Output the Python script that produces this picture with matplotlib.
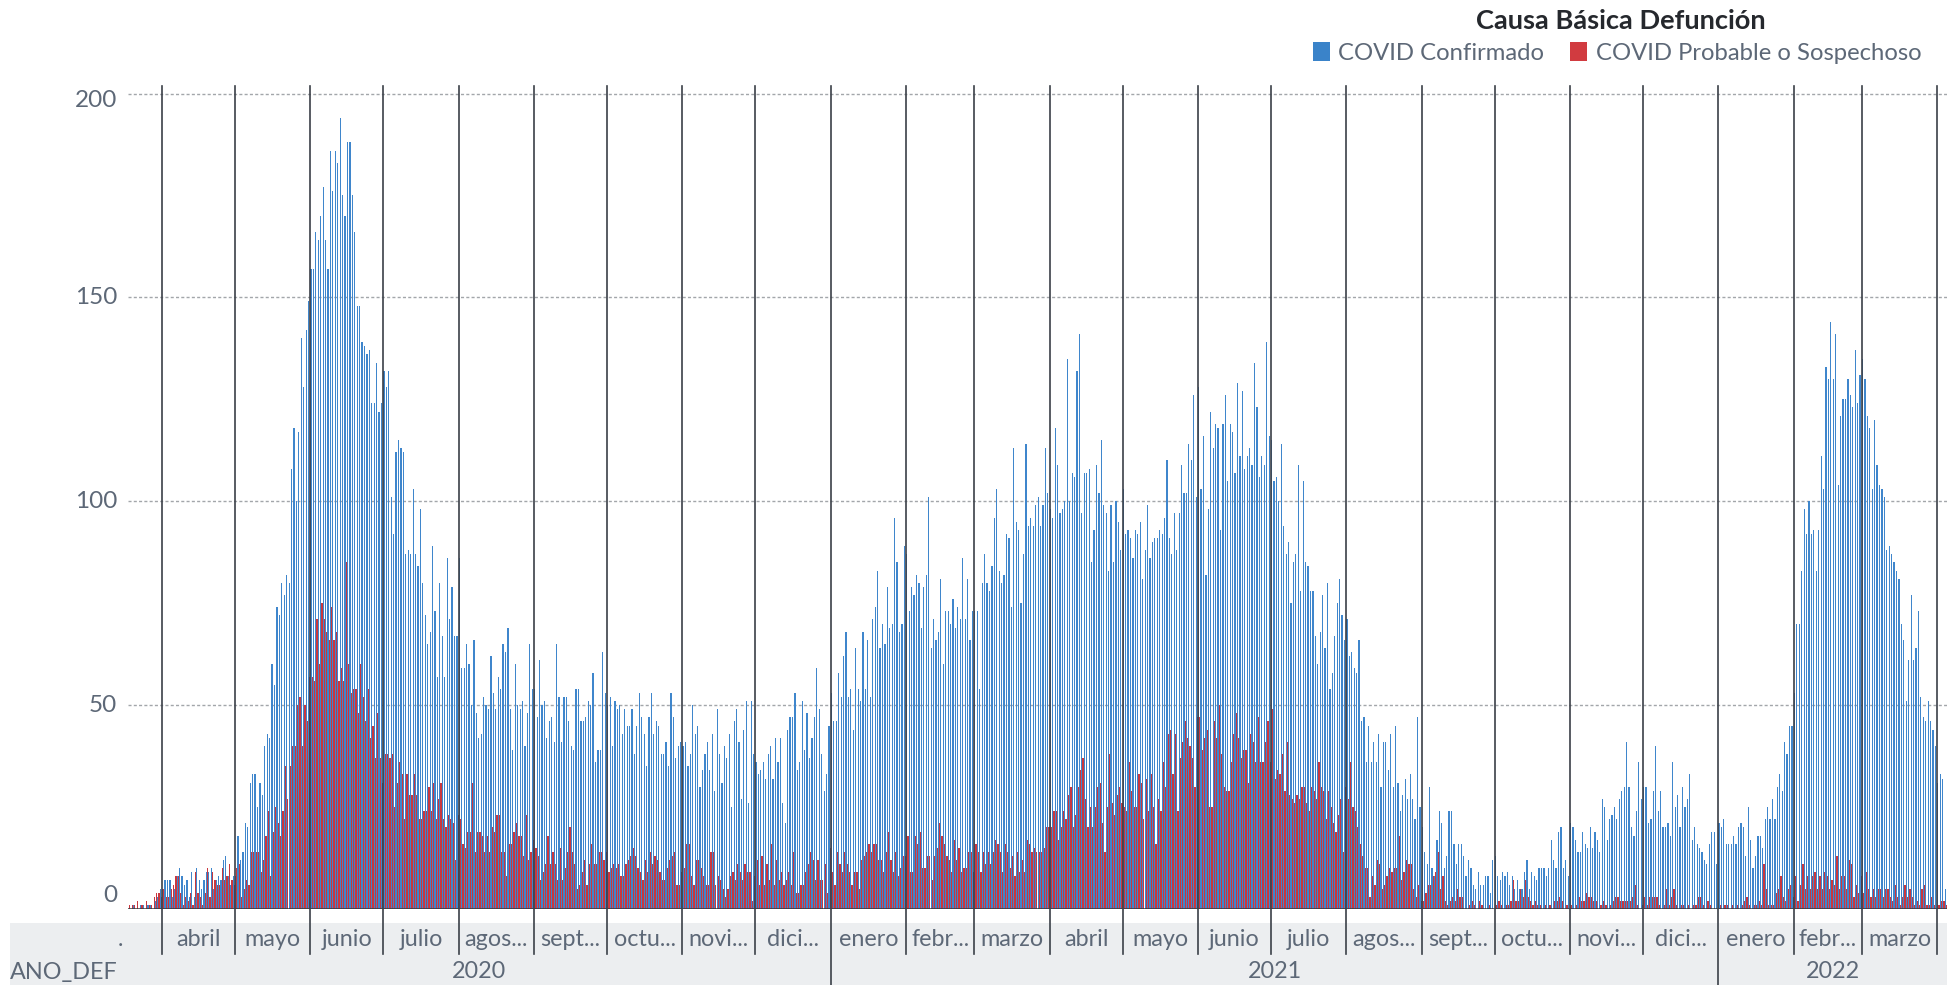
import matplotlib
matplotlib.use("Agg")
import matplotlib.pyplot as plt
import matplotlib.transforms as mtransforms
from matplotlib.patches import Rectangle
from matplotlib.lines import Line2D
import numpy as np
import pandas as pd

plt.rcParams['font.family'] = ['Lato', 'DejaVu Sans']

# ---------------- data (daily deaths) ----------------
start_date = "2020-03-18"

conf_2020_03 = [0,0,1,0,0,1,1,0,1,1,0,2,3,5]
conf_2020_04 = [5,7,7,7,3,5,8,10,8,6,7,3,9,3,10,7,5,7,9,9,10,5,7,8,7,12,13,8,6,8]
conf_2020_05 = [8,18,12,14,21,20,31,33,33,25,31,28,40,43,42,60,55,74,72,80,77,82,80,108,118,100,117,140,128,142,149]
conf_2020_06 = [157,157,166,164,170,177,164,157,186,176,186,183,194,175,170,188,188,175,166,148,148,139,138,136,137,124,124,134,122,124]
conf_2020_07 = [132,128,132,101,92,112,115,113,112,87,88,87,103,87,84,98,80,72,65,68,89,73,57,80,67,57,86,71,79,67,67]
conf_2020_08 = [86,59,59,65,60,50,66,48,42,43,52,50,49,62,53,49,57,54,65,63,69,49,39,60,50,49,51,40,48,65,54]
conf_2020_09 = [54,47,61,50,51,42,46,47,41,65,52,41,52,52,46,40,39,54,54,46,46,47,51,50,58,36,39,39,63,53]
conf_2020_10 = [50,52,40,51,49,50,43,49,45,45,49,38,45,53,47,43,35,47,53,43,46,45,38,38,41,35,53,47,37,40,41]
conf_2020_11 = [40,41,35,38,50,43,45,30,34,38,41,34,43,29,49,38,31,40,37,43,25,46,49,41,27,44,51,26,51,38]
conf_2020_12 = [36,33,34,36,32,38,40,32,42,36,42,26,21,44,47,47,53,34,36,51,39,48,37,42,47,59,49,38,29,33,45]
conf_2021_01 = [53,46,46,58,52,62,68,52,54,44,64,54,51,68,54,66,52,71,74,83,64,70,65,79,69,70,96,85,68,70,89]
conf_2021_02 = [87,73,79,77,82,80,69,79,82,101,64,71,66,68,81,60,73,73,70,76,69,74,71,86,71,81,66,73]
conf_2021_03 = [73,73,54,80,87,80,78,84,96,103,83,80,82,92,91,74,113,95,93,75,87,114,94,96,94,99,101,94,99,113,102]
conf_2021_04 = [98,96,118,109,97,98,100,135,100,107,106,132,141,97,107,107,108,85,93,109,102,115,99,97,83,99,85,100,95,88]
conf_2021_05 = [103,92,93,91,86,93,92,95,81,88,99,86,90,91,91,93,92,96,110,91,87,97,88,97,109,102,102,114,110,126,101]
conf_2021_06 = [128,103,116,82,98,122,113,119,118,93,119,126,105,119,117,107,129,111,127,108,111,113,109,134,123,106,111,109,139,116]
conf_2021_07 = [115,105,106,100,114,94,87,90,75,85,87,109,78,105,85,84,78,78,67,60,68,77,64,80,54,58,67,75,81,72,66]
conf_2021_08 = [71,62,63,59,58,66,46,47,36,45,36,41,36,43,30,41,41,34,43,30,45,31,24,28,32,27,33,27,22,47,25]
conf_2021_09 = [20,14,11,30,10,8,17,24,21,10,13,24,24,16,11,16,16,13,8,12,10,6,5,9,6,6,8,8,4,12]
conf_2021_10 = [13,8,7,9,8,9,6,8,5,7,5,5,9,12,5,9,8,7,10,10,10,8,10,17,12,10,19,20,10,12,8]
conf_2021_11 = [21,20,17,14,14,19,16,15,20,15,19,17,14,27,25,17,22,23,25,22,27,29,30,41,30,20,18,24,36,27]
conf_2021_12 = [30,30,21,22,29,40,24,29,20,20,21,18,36,25,28,20,30,25,27,33,17,20,16,15,14,12,11,16,19,19,11]
conf_2022_01 = [21,20,22,16,16,16,18,16,20,21,20,13,25,17,10,13,18,18,15,22,25,22,27,22,30,33,29,41,38,45,45]
conf_2022_02 = [53,70,70,83,98,92,100,92,93,83,93,111,103,133,130,144,130,141,104,121,125,125,130,126,123,137,124,131]
conf_2022_03 = [135,130,121,118,103,120,109,104,103,101,88,89,87,85,83,81,70,66,51,61,77,61,64,73,52,47,46,51,46,44,40]
conf_2022_04 = [31,33,32,5]

prob_2020_03 = [1,1,1,2,0,1,0,2,1,1,3,4,4,3]
prob_2020_04 = [5,3,3,5,6,8,8,4,1,3,2,4,1,9,4,3,1,4,10,3,9,7,6,6,10,7,8,11,7,6]
prob_2020_05 = [10,11,3,5,7,6,14,14,14,14,9,12,18,24,8,19,25,21,18,24,35,27,35,40,40,50,52,40,50,46,57]
prob_2020_06 = [57,56,71,60,75,71,68,66,74,66,68,56,59,56,85,60,53,54,54,48,60,52,46,54,42,45,37,48,37,31]
prob_2020_07 = [38,38,37,38,25,31,36,33,22,33,28,28,33,28,22,22,24,24,30,24,31,22,27,31,22,20,23,22,21,12,23]
prob_2020_08 = [22,16,15,19,19,31,14,19,19,18,14,18,14,20,19,23,23,14,14,8,16,16,19,21,18,18,13,23,12,14,17]
prob_2020_09 = [15,13,7,9,11,18,11,14,11,7,15,7,10,14,20,14,11,5,6,9,12,6,11,16,11,11,14,14,12,14]
prob_2020_10 = [9,10,11,10,11,8,8,11,12,13,15,13,10,9,7,12,9,14,11,13,12,9,7,7,10,12,13,14,6,6,9]
prob_2020_11 = [10,16,16,8,6,12,12,10,8,6,6,14,14,6,8,7,5,3,5,8,9,7,11,9,7,11,9,9,2,8]
prob_2020_12 = [12,6,13,6,11,7,16,6,12,7,9,6,7,9,6,14,4,4,6,6,9,11,14,12,7,12,7,7,11,4,15]
prob_2021_01 = [9,6,14,11,9,14,11,9,6,9,9,5,12,13,14,16,14,16,16,12,12,9,14,19,12,9,14,8,10,13,13]
prob_2021_02 = [18,9,9,18,16,19,10,10,13,13,7,13,15,21,18,16,13,12,9,17,12,15,9,10,10,14,14,9]
prob_2021_03 = [16,14,9,14,11,14,11,14,17,16,14,9,16,14,10,13,8,14,9,12,9,17,16,14,15,14,14,14,15,20,20]
prob_2021_04 = [20,24,24,17,20,24,22,28,30,20,23,30,34,37,27,20,25,20,25,30,31,21,14,25,38,26,23,28,30,26]
prob_2021_05 = [25,24,36,29,25,25,33,31,22,32,24,33,25,16,27,24,36,30,43,44,33,43,24,37,41,46,42,40,37,30,47]
prob_2021_06 = [47,39,42,44,25,25,46,42,50,38,30,29,29,36,43,48,42,37,39,39,31,43,41,36,47,36,36,41,46,36]
prob_2021_07 = [49,32,34,33,38,29,41,28,27,26,28,27,30,30,26,24,30,29,27,36,30,29,22,29,25,21,19,23,27,14,30]
prob_2021_08 = [27,36,25,24,20,16,13,10,10,3,8,6,12,11,5,6,8,10,9,10,10,18,7,9,12,11,11,5,3,6,2]
prob_2021_09 = [2,4,6,6,8,9,14,5,8,2,1,2,3,2,5,3,3,0,0,1,2,1,0,2,1,0,0,1,0,0]
prob_2021_10 = [1,2,1,0,1,1,2,7,2,2,5,3,7,3,2,1,2,1,1,0,1,0,1,0,2,2,3,2,0,1,0]
prob_2021_11 = [1,0,1,3,2,2,4,3,3,2,2,0,1,2,1,0,1,2,3,3,2,2,2,2,2,3,6,1,0,1]
prob_2021_12 = [3,1,3,3,3,3,1,0,1,5,1,3,5,1,0,1,1,0,1,0,1,1,3,3,1,0,2,1,0,0,0]
prob_2022_01 = [1,0,1,1,0,1,0,1,0,1,2,3,1,0,1,1,2,1,11,5,1,1,1,4,5,8,3,2,5,6,3]
prob_2022_02 = [8,2,6,11,5,8,5,8,9,5,8,5,9,8,5,7,6,13,5,8,8,5,12,11,3,6,4,8]
prob_2022_03 = [4,9,5,3,5,3,5,5,3,5,5,3,2,6,3,1,3,6,3,5,3,1,2,1,5,6,1,1,3,1,0]
prob_2022_04 = [1,2,2,1]

month_labels = [".", "abril", "mayo", "junio", "julio", "agos...", "sept...", "octu...",
                "novi...", "dici...", "enero", "febr...", "marzo", "abril", "mayo", "junio",
                "julio", "agos...", "sept...", "octu...", "novi...", "dici...", "enero",
                "febr...", "marzo", ""]
year_labels = ["2020", "2021", "2022"]
series_names = ["COVID Confirmado", "COVID Probable o Sospechoso"]
legend_title = "Causa Básica Defunción"
axis_title = "ANO_DEF"
y_ticks = [0, 50, 100, 150, 200]

conf_months = [conf_2020_03, conf_2020_04, conf_2020_05, conf_2020_06, conf_2020_07, conf_2020_08,
               conf_2020_09, conf_2020_10, conf_2020_11, conf_2020_12, conf_2021_01, conf_2021_02,
               conf_2021_03, conf_2021_04, conf_2021_05, conf_2021_06, conf_2021_07, conf_2021_08,
               conf_2021_09, conf_2021_10, conf_2021_11, conf_2021_12, conf_2022_01, conf_2022_02,
               conf_2022_03, conf_2022_04]
prob_months = [prob_2020_03, prob_2020_04, prob_2020_05, prob_2020_06, prob_2020_07, prob_2020_08,
               prob_2020_09, prob_2020_10, prob_2020_11, prob_2020_12, prob_2021_01, prob_2021_02,
               prob_2021_03, prob_2021_04, prob_2021_05, prob_2021_06, prob_2021_07, prob_2021_08,
               prob_2021_09, prob_2021_10, prob_2021_11, prob_2021_12, prob_2022_01, prob_2022_02,
               prob_2022_03, prob_2022_04]

conf = np.concatenate([np.array(m, dtype=float) for m in conf_months])
prob = np.concatenate([np.array(m, dtype=float) for m in prob_months])
n = len(conf)
dates = pd.date_range(start_date, periods=n, freq="D")
idx = np.arange(n)

# ---------------- figure ----------------
W, H = 1955, 985
fig = plt.figure(figsize=(W / 100, H / 100), dpi=100)
fig.patch.set_facecolor("white")

def fy(px):
    return (H - px) / H

# bottom category band (drawn first, behind everything)
fig.patches.append(Rectangle((10 / W, 0), (1947 - 10) / W, fy(923), transform=fig.transFigure,
                             facecolor="#eceef0", edgecolor="none", zorder=-5))

ax_left, ax_right = 128, 1947
ax_bottom_px, ax_top_px = 909, 86
ax = fig.add_axes([ax_left / W, (H - ax_bottom_px) / H,
                   (ax_right - ax_left) / W, (ax_bottom_px - ax_top_px) / H])
ax.patch.set_alpha(0)
px_per_unit = (909 - 93.5) / 200.0
ax.set_ylim(0, (ax_bottom_px - ax_top_px) / px_per_unit)
ax.set_xlim(-0.5, n - 0.5)
for s in ax.spines.values():
    s.set_visible(False)
ax.set_xticks([])
ax.set_yticks([])

# gridlines
for v in y_ticks[1:]:
    ax.axhline(v, color="#a3a6aa", lw=1.0, linestyle=(0, (2.2, 1.6)), zorder=1)

# bars: confirmed (left half), probable (right half)
bw = 0.5
ax.bar(idx - bw / 2, conf, width=bw, color="#3f86cc", linewidth=0, zorder=2)
ax.bar(idx + bw / 2, prob, width=bw, color="#c9383f", linewidth=0, zorder=3)

# baseline
ax.axhline(0, color="#33373d", lw=1.8, zorder=5)

# ---------------- separators & category labels ----------------
trans = mtransforms.blended_transform_factory(ax.transData, fig.transFigure)
month_start = pd.date_range("2020-04-01", "2022-04-01", freq="MS")
boundaries = [int((d - dates[0]).days) - 0.5 for d in month_start]
for d, b in zip(month_start, boundaries):
    y_end = 0.0 if d.month == 1 else fy(954)
    ax.add_line(Line2D([b, b], [fy(86), y_end], transform=trans, color="#3b4048",
                       lw=1.2, clip_on=False, zorder=6))

seg_edges = [-0.5] + boundaries + [n - 0.5]
for i, lab in enumerate(month_labels):
    if not lab:
        continue
    c = 0.5 * (seg_edges[i] + seg_edges[i + 1])
    if lab == ".":
        c = (120 - ax_left) / ((ax_right - ax_left) / n) - 0.5
    ax.text(c, fy(940), lab, transform=trans, ha="center", va="center",
            fontsize=16.8, color="#5d6877", clip_on=False)

year_edges = [-0.5,
              int((pd.Timestamp("2021-01-01") - dates[0]).days) - 0.5,
              int((pd.Timestamp("2022-01-01") - dates[0]).days) - 0.5,
              n - 0.5]
for i, lab in enumerate(year_labels):
    c = 0.5 * (year_edges[i] + year_edges[i + 1])
    ax.text(c, fy(972), lab, transform=trans, ha="center", va="center",
            fontsize=16.8, color="#5d6877", clip_on=False)

fig.text(10 / W, fy(972), axis_title, ha="left", va="center", fontsize=16.8, color="#5d6877")

# y tick labels
ytrans = mtransforms.blended_transform_factory(fig.transFigure, ax.transData)
label_pos = {0: 3.2, 50: 50, 100: 100, 150: 150, 200: 198.4}
for v in y_ticks:
    ax.text(117 / W, label_pos[v], str(v), transform=ytrans, ha="right", va="center",
            fontsize=17.5, color="#5d6877", clip_on=False)

# ---------------- legend ----------------
fig.text(1621 / W, fy(21), legend_title, ha="center", va="center", fontsize=19.6,
         fontweight="bold", color="#25282d")
fig.patches.append(Rectangle((1313 / W, fy(61)), 17 / W, 19 / H, transform=fig.transFigure,
                             facecolor="#3a83c9", edgecolor="none"))
fig.text(1338 / W, fy(53), series_names[0], ha="left", va="center", fontsize=17.2,
         color="#5d6877")
fig.patches.append(Rectangle((1570 / W, fy(61)), 17 / W, 19 / H, transform=fig.transFigure,
                             facecolor="#d13b40", edgecolor="none"))
fig.text(1596 / W, fy(53), series_names[1], ha="left", va="center", fontsize=17.2,
         color="#5d6877")

fig.savefig("out.png", dpi=100, facecolor="white")
